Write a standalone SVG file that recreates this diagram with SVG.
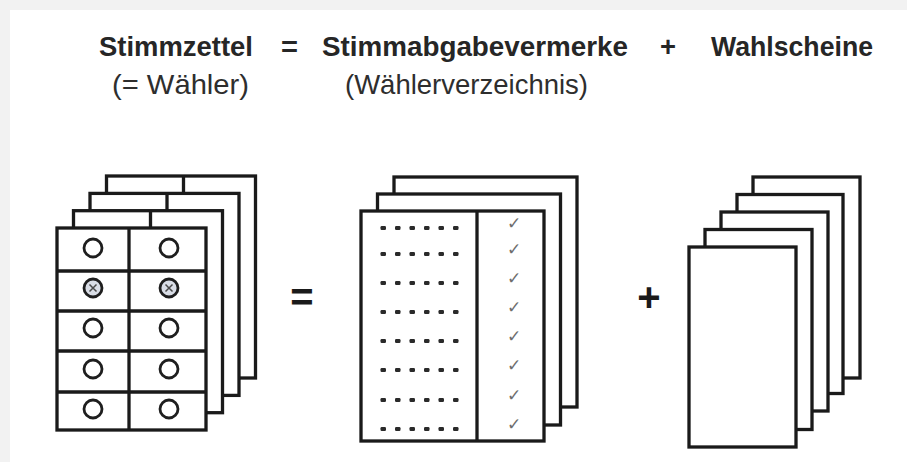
<svg xmlns="http://www.w3.org/2000/svg" width="907" height="462" viewBox="0 0 907 462">
  <defs>
    <style>
      .head { font-family: "Liberation Sans", Arial, sans-serif; font-weight: bold; font-size: 28px; fill: #262626; }
      .sub { font-family: "Liberation Sans", Arial, sans-serif; font-size: 28px; fill: #2e2e2e; }
      .op { font-family: "Liberation Sans", Arial, sans-serif; font-weight: bold; font-size: 40px; fill: #1a1a1a; }
      .sheet { fill: #ffffff; stroke: #1a1a1a; stroke-width: 3.3; }
      .rule { stroke: #1a1a1a; stroke-width: 3.3; fill: none; }
      .mark { fill: #ffffff; stroke: #1e1e1e; stroke-width: 2.8; }
      .marked { fill: #d9dde6; stroke: #1e1e1e; stroke-width: 2.8; }
      .cross { stroke: #4a4a4a; stroke-width: 1.5; }
      .dot { fill: #2a2a2a; }
      .tick { font-family: "DejaVu Sans", sans-serif; font-size: 17px; fill: #6e6e6e; }
    </style>
    <!-- ballot sheet seen from behind: outline plus column split -->
    <g id="ballotBack">
      <rect class="sheet" x="0" y="0" width="149" height="202"/>
      <line class="rule" x1="77" y1="0" x2="77" y2="202"/>
    </g>
    <!-- a row of six leader dots -->
    <g id="dotRow">
      <rect class="dot" x="-2.5" y="-2" width="5.5" height="4" rx="1.2"/>
      <rect class="dot" x="12" y="-2" width="5.5" height="4" rx="1.2"/>
      <rect class="dot" x="26.5" y="-2" width="5.5" height="4" rx="1.2"/>
      <rect class="dot" x="41" y="-2" width="5.5" height="4" rx="1.2"/>
      <rect class="dot" x="55.5" y="-2" width="5.5" height="4" rx="1.2"/>
      <rect class="dot" x="70" y="-2" width="5.5" height="4" rx="1.2"/>
    </g>
  </defs>

  <!-- page -->
  <rect x="0" y="0" width="907" height="462" fill="#f2f2f2"/>
  <rect x="10" y="10" width="897" height="452" fill="#ffffff"/>

  <!-- heading equation -->
  <g id="heading">
    <text class="head" x="99" y="56" textLength="154" lengthAdjust="spacingAndGlyphs">Stimmzettel</text>
    <text class="head" x="281" y="56" textLength="17" lengthAdjust="spacingAndGlyphs">=</text>
    <text class="head" x="322" y="56" textLength="306" lengthAdjust="spacingAndGlyphs">Stimmabgabevermerke</text>
    <text class="head" x="660" y="56" textLength="16" lengthAdjust="spacingAndGlyphs">+</text>
    <text class="head" x="711" y="56" textLength="162" lengthAdjust="spacingAndGlyphs">Wahlscheine</text>
    <text class="sub" x="112" y="94" textLength="137" lengthAdjust="spacingAndGlyphs">(= Wähler)</text>
    <text class="sub" x="345" y="94" textLength="243" lengthAdjust="spacingAndGlyphs">(Wählerverzeichnis)</text>
  </g>

  <!-- stack of ballots -->
  <g id="ballots">
    <use href="#ballotBack" x="106.5" y="176"/>
    <use href="#ballotBack" x="90" y="193.4"/>
    <use href="#ballotBack" x="73.5" y="210.7"/>
    <g id="ballotFront">
      <rect class="sheet" x="57" y="228" width="149" height="202"/>
      <line class="rule" x1="129" y1="228" x2="129" y2="430"/>
      <line class="rule" x1="57" y1="271" x2="206" y2="271"/>
      <line class="rule" x1="57" y1="311" x2="206" y2="311"/>
      <line class="rule" x1="57" y1="351" x2="206" y2="351"/>
      <line class="rule" x1="57" y1="392" x2="206" y2="392"/>
      <circle class="mark" cx="93" cy="248" r="9"/>
      <circle class="mark" cx="169" cy="248" r="9"/>
      <circle class="marked" cx="93" cy="288" r="9"/>
      <circle class="marked" cx="169" cy="288" r="9"/>
      <path class="cross" d="M89.5 284.5 L96.5 291.5 M96.5 284.5 L89.5 291.5"/>
      <path class="cross" d="M165.5 284.5 L172.5 291.5 M172.5 284.5 L165.5 291.5"/>
      <circle class="mark" cx="93" cy="328" r="9"/>
      <circle class="mark" cx="169" cy="328" r="9"/>
      <circle class="mark" cx="93" cy="369" r="9"/>
      <circle class="mark" cx="169" cy="369" r="9"/>
      <circle class="mark" cx="93" cy="409" r="9"/>
      <circle class="mark" cx="169" cy="409" r="9"/>
    </g>
  </g>

  <!-- equals sign between stacks -->
  <g id="equals">
    <text class="op" x="302" y="311" text-anchor="middle">=</text>
  </g>

  <!-- voter register stack -->
  <g id="register">
    <rect class="sheet" x="394" y="177" width="183" height="230"/>
    <rect class="sheet" x="377.5" y="194" width="183" height="231"/>
    <rect class="sheet" x="361" y="211" width="183" height="230"/>
    <line class="rule" x1="477" y1="211" x2="477" y2="441"/>
    <use href="#dotRow" x="383" y="228"/>
    <use href="#dotRow" x="383" y="254"/>
    <use href="#dotRow" x="383" y="283"/>
    <use href="#dotRow" x="383" y="312"/>
    <use href="#dotRow" x="383" y="341"/>
    <use href="#dotRow" x="383" y="370"/>
    <use href="#dotRow" x="383" y="400"/>
    <use href="#dotRow" x="383" y="429"/>
    <text class="tick" x="507" y="229">✓</text>
    <text class="tick" x="507" y="255">✓</text>
    <text class="tick" x="507" y="284">✓</text>
    <text class="tick" x="507" y="313">✓</text>
    <text class="tick" x="507" y="342">✓</text>
    <text class="tick" x="507" y="371">✓</text>
    <text class="tick" x="507" y="401">✓</text>
    <text class="tick" x="507" y="430">✓</text>
  </g>

  <!-- plus sign between stacks -->
  <g id="plus">
    <text class="op" x="649" y="311" text-anchor="middle">+</text>
  </g>

  <!-- stack of polling cards -->
  <g id="cards">
    <rect class="sheet" x="753" y="177" width="107" height="201"/>
    <rect class="sheet" x="737" y="194.5" width="106" height="199"/>
    <rect class="sheet" x="721" y="212" width="107" height="199"/>
    <rect class="sheet" x="705" y="229.5" width="107" height="200"/>
    <rect class="sheet" x="689" y="247" width="107" height="200"/>
  </g>
</svg>
